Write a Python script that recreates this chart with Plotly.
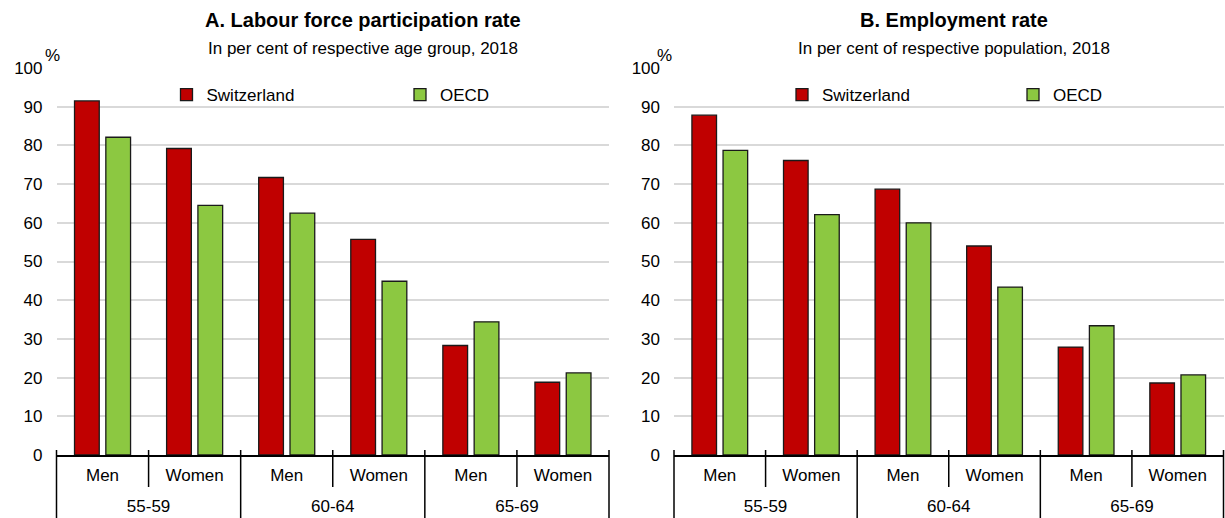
import plotly.graph_objects as go

# ---- data ----
age_groups = ["55-59", "55-59", "60-64", "60-64", "65-69", "65-69"]
sexes = ["Men", "Women", "Men", "Women", "Men", "Women"]
lfp_switzerland = [91.5, 79.2, 71.7, 55.7, 28.3, 18.8]
lfp_oecd = [82.1, 64.5, 62.5, 44.9, 34.4, 21.2]
emp_switzerland = [87.8, 76.1, 68.7, 54.0, 27.9, 18.6]
emp_oecd = [78.7, 62.1, 60.0, 43.4, 33.4, 20.7]
y_ticks = list(range(0, 101, 10))

panel_titles = ["<b>A. Labour force participation rate</b>", "<b>B. Employment rate</b>"]
panel_subtitles = ["In per cent of respective age group, 2018",
                   "In per cent of respective population, 2018"]

RED = "#C00000"
GREEN = "#8CC841"
FONT = "Liberation Sans, Arial, sans-serif"
W, H = 1225, 518

n = len(sexes)
pos = list(range(n))
group_names = list(dict.fromkeys(age_groups))
group_pos = [sum(i for i in pos if age_groups[i] == g) / age_groups.count(g) for g in group_names]
xrange_ = [-0.5, n - 0.5]

fig = go.Figure()
panels = [(lfp_switzerland, lfp_oecd, "x", "y", ("legend", "legend2"), "x3"),
          (emp_switzerland, emp_oecd, "x2", "y2", ("legend3", "legend4"), "x4")]
for ch, oe, xa, ya, lgs, xg in panels:
    fig.add_trace(go.Bar(x=pos, y=ch, name="Switzerland", marker_color=RED,
                         marker_line=dict(color="#1a1a1a", width=1.3),
                         xaxis=xa, yaxis=ya, legend=lgs[0],
                         customdata=list(zip(age_groups, sexes)),
                         hovertemplate="%{customdata[0]} %{customdata[1]}: %{y}<extra>Switzerland</extra>"))
    fig.add_trace(go.Bar(x=pos, y=oe, name="OECD", marker_color=GREEN,
                         marker_line=dict(color="#1a1a1a", width=1.3),
                         xaxis=xa, yaxis=ya, legend=lgs[1],
                         customdata=list(zip(age_groups, sexes)),
                         hovertemplate="%{customdata[0]} %{customdata[1]}: %{y}<extra>OECD</extra>"))
    # invisible carrier so the age-group label axis is drawn
    fig.add_trace(go.Scatter(x=group_pos, y=[None] * len(group_pos), mode="markers",
                             xaxis=xg, yaxis=ya, showlegend=False, hoverinfo="skip"))

# plot areas in px
px_A = (56.5, 609)
px_B = (674, 1223.5)
y_top, y_bot = 68, 455
ydom = [(H - y_bot) / H, (H - y_top) / H]
tick_font = dict(family=FONT, size=17, color="black")

def xaxis_cfg(dom, anchor):
    return dict(domain=[dom[0] / W, dom[1] / W], anchor=anchor, range=xrange_,
                tickmode="array", tickvals=pos, ticktext=sexes,
                showline=True, linecolor="black", linewidth=2,
                showgrid=False, zeroline=False, ticks="",
                tickfont=tick_font, ticklabelstandoff=4, automargin=False)

def group_axis_cfg(dom, overlay):
    return dict(domain=[dom[0] / W, dom[1] / W], overlaying=overlay, anchor="free",
                position=(H - 494) / H, side="bottom", range=xrange_,
                tickmode="array", tickvals=group_pos, ticktext=group_names,
                showline=False, showgrid=False, zeroline=False, ticks="",
                tickfont=tick_font, automargin=False)

def yaxis_cfg(anchor):
    return dict(domain=ydom, anchor=anchor, range=[0, 100], tickvals=y_ticks,
                showgrid=True, gridcolor="#D9D9D9", gridwidth=1.5,
                zeroline=False, showline=False, ticks="",
                tickfont=tick_font, ticklabelstandoff=13, automargin=False)

def legend_cfg(text_px):
    return dict(orientation="h", x=(text_px - 40) / W, xanchor="left",
                y=1 - 95 / H, yanchor="middle", font=dict(size=17),
                bgcolor="rgba(0,0,0,0)")

fig.update_layout(
    width=W, height=H,
    margin=dict(l=0, r=0, t=0, b=0),
    paper_bgcolor="white", plot_bgcolor="white",
    barmode="group", bargap=0.32, bargroupgap=0.21,
    font=dict(family=FONT, size=17, color="black"),
    xaxis=xaxis_cfg(px_A, "y"), yaxis=yaxis_cfg("x"),
    xaxis2=xaxis_cfg(px_B, "y2"), yaxis2=yaxis_cfg("x2"),
    xaxis3=group_axis_cfg(px_A, "x"), xaxis4=group_axis_cfg(px_B, "x2"),
    legend=legend_cfg(206.5), legend2=legend_cfg(440),
    legend3=legend_cfg(822), legend4=legend_cfg(1053),
)

# titles and unit labels
annotations = []
for cx, t, s in [(363, panel_titles[0], panel_subtitles[0]),
                 (954, panel_titles[1], panel_subtitles[1])]:
    annotations.append(dict(x=cx / W, y=1 - 20 / H, xref="paper", yref="paper", text=t,
                            showarrow=False, xanchor="center", yanchor="middle",
                            font=dict(family=FONT, size=20, color="black")))
    annotations.append(dict(x=cx / W, y=1 - 48 / H, xref="paper", yref="paper", text=s,
                            showarrow=False, xanchor="center", yanchor="middle",
                            font=dict(family=FONT, size=17, color="black")))
for px in (52.5, 664.5):
    annotations.append(dict(x=px / W, y=1 - 55 / H, xref="paper", yref="paper", text="%",
                            showarrow=False, xanchor="center", yanchor="middle",
                            font=dict(family=FONT, size=17, color="black")))
fig.update_layout(annotations=annotations)

# category separators (inner: short, between age groups: full height)
shapes = []
for xa in ("x", "x2"):
    for k in range(n + 1):
        full = (k % 2 == 0)
        shapes.append(dict(type="line", xref=f"{xa} domain", yref="paper",
                           x0=k / n, x1=k / n,
                           y0=(H - 450) / H, y1=0 if full else (H - 487) / H,
                           line=dict(color="black", width=1.5)))
fig.update_layout(shapes=shapes)

fig.write_html("out.html",
               config={"displayModeBar": False, "responsive": False},
               post_script="document.body.style.margin='0px';document.body.style.overflow='hidden';")
